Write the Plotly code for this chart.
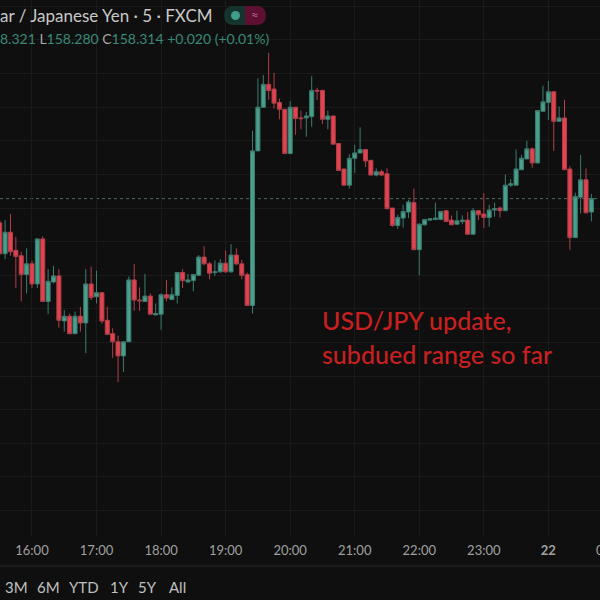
import pandas as pd
import plotly.graph_objects as go

opens = [158.278, 158.232, 158.264, 158.237, 158.229, 158.201, 158.217, 158.187, 158.254, 158.161, 158.190,
         158.199, 158.132, 158.139, 158.113, 158.139, 158.129, 158.187, 158.168, 158.174, 158.133, 158.113,
         158.101, 158.080, 158.101, 158.193, 158.163, 158.161, 158.169, 158.141, 158.142, 158.171, 158.164,
         158.170, 158.204, 158.190, 158.192, 158.200, 158.227, 158.217, 158.204, 158.205, 158.218, 158.205,
         158.230, 158.217, 158.201, 158.155, 158.385, 158.450, 158.484, 158.477, 158.457, 158.447, 158.381,
         158.450, 158.434, 158.434, 158.436, 158.475, 158.475, 158.432, 158.437, 158.396, 158.358, 158.334,
         158.374, 158.382, 158.387, 158.371, 158.349, 158.354, 158.351, 158.300, 158.274, 158.285, 158.294,
         158.308, 158.238, 158.275, 158.282, 158.283, 158.283, 158.296, 158.282, 158.276, 158.280, 158.282,
         158.261, 158.296, 158.291, 158.286, 158.297, 158.300, 158.296, 158.334, 158.334, 158.357, 158.373,
         158.388, 158.367, 158.444, 158.457, 158.473, 158.429, 158.434, 158.358, 158.256, 158.316, 158.342,
         158.294]
highs = [158.282, 158.282, 158.291, 158.257, 158.235, 158.240, 158.222, 158.255, 158.258, 158.209, 158.214,
         158.209, 158.148, 158.143, 158.146, 158.153, 158.209, 158.213, 158.207, 158.174, 158.153, 158.121,
         158.110, 158.101, 158.198, 158.217, 158.182, 158.202, 158.173, 158.158, 158.173, 158.193, 158.182,
         158.204, 158.209, 158.202, 158.202, 158.230, 158.243, 158.220, 158.222, 158.224, 158.237, 158.246,
         158.240, 158.223, 158.204, 158.415, 158.493, 158.498, 158.531, 158.501, 158.463, 158.447, 158.459,
         158.450, 158.445, 158.443, 158.496, 158.479, 158.475, 158.445, 158.437, 158.396, 158.359, 158.380,
         158.394, 158.420, 158.387, 158.371, 158.359, 158.357, 158.359, 158.300, 158.290, 158.305, 158.312,
         158.329, 158.277, 158.283, 158.284, 158.308, 158.295, 158.297, 158.289, 158.296, 158.289, 158.294,
         158.300, 158.296, 158.322, 158.305, 158.308, 158.302, 158.350, 158.343, 158.387, 158.379, 158.400,
         158.390, 158.445, 158.482, 158.489, 158.473, 158.451, 158.461, 158.362, 158.323, 158.379, 158.359,
         158.321]
lows = [158.230, 158.224, 158.229, 158.181, 158.161, 158.173, 158.181, 158.181, 158.161, 158.142, 158.188,
        158.122, 158.116, 158.113, 158.113, 158.116, 158.084, 158.163, 158.158, 158.128, 158.111, 158.077,
        158.041, 158.056, 158.101, 158.147, 158.147, 158.160, 158.142, 158.141, 158.119, 158.161, 158.163,
        158.158, 158.181, 158.189, 158.176, 158.199, 158.215, 158.194, 158.199, 158.204, 158.204, 158.204,
        158.215, 158.194, 158.155, 158.143, 158.385, 158.449, 158.461, 158.448, 158.432, 158.381, 158.381,
        158.409, 158.417, 158.406, 158.421, 158.461, 158.425, 158.417, 158.395, 158.356, 158.334, 158.329,
        158.352, 158.381, 158.361, 158.349, 158.347, 158.348, 158.299, 158.272, 158.269, 158.271, 158.285,
        158.238, 158.200, 158.274, 158.281, 158.282, 158.282, 158.279, 158.275, 158.275, 158.276, 158.261,
        158.261, 158.282, 158.270, 158.272, 158.287, 158.286, 158.296, 158.331, 158.334, 158.357, 158.373,
        158.360, 158.367, 158.444, 158.431, 158.385, 158.428, 158.357, 158.238, 158.256, 158.292, 158.292,
        158.280]
closes = [158.232, 158.264, 158.235, 158.228, 158.201, 158.217, 158.187, 158.254, 158.161, 158.191, 158.199,
          158.133, 158.139, 158.113, 158.139, 158.129, 158.187, 158.167, 158.174, 158.132, 158.112, 158.101,
          158.080, 158.101, 158.193, 158.163, 158.162, 158.169, 158.142, 158.143, 158.171, 158.166, 158.171,
          158.204, 158.192, 158.193, 158.201, 158.227, 158.217, 158.203, 158.205, 158.218, 158.205, 158.230,
          158.217, 158.200, 158.155, 158.385, 158.450, 158.484, 158.475, 158.456, 158.447, 158.381, 158.450,
          158.433, 158.433, 158.437, 158.475, 158.474, 158.432, 158.437, 158.395, 158.356, 158.334, 158.374,
          158.382, 158.387, 158.370, 158.349, 158.354, 158.349, 158.299, 158.274, 158.286, 158.295, 158.309,
          158.238, 158.276, 158.283, 158.284, 158.285, 158.295, 158.280, 158.275, 158.281, 158.282, 158.261,
          158.296, 158.290, 158.286, 158.297, 158.299, 158.296, 158.334, 158.336, 158.358, 158.374, 158.388,
          158.367, 158.445, 158.458, 158.473, 158.429, 158.434, 158.357, 158.256, 158.317, 158.342, 158.293,
          158.314]

times = pd.date_range("2024-06-21 15:30", periods=len(opens), freq="5min")

hour_ticks = ["2024-06-21 16:00", "2024-06-21 17:00", "2024-06-21 18:00", "2024-06-21 19:00", "2024-06-21 20:00",
              "2024-06-21 21:00", "2024-06-21 22:00", "2024-06-21 23:00", "2024-06-22 00:00"]
hour_labels = ["16:00", "17:00", "18:00", "19:00", "20:00", "21:00", "22:00", "23:00", "<b>22</b>"]
price_ticks = [157.85, 157.90, 157.95, 158.00, 158.05, 158.10, 158.15, 158.20, 158.25, 158.30, 158.35, 158.40,
               158.45, 158.50, 158.55, 158.60]
last_price = 158.314

range_labels = ["3M", "6M", "YTD", "1Y", "5Y", "All"]
range_label_x = [16.5, 48, 84, 119, 147, 177]

BG = "#0f0f0f"
GRID = "#1a1a1a"
UP = "#479f8c"
DOWN = "#e2434f"


def px_x(x):
    return x / 600


def px_y(y):
    return 1 - y / 600


fig = go.Figure(go.Candlestick(
    x=times, open=opens, high=highs, low=lows, close=closes,
    increasing=dict(line=dict(color="#3d7d70", width=1), fillcolor=UP),
    decreasing=dict(line=dict(color="#b23f4a", width=1), fillcolor=DOWN),
    whiskerwidth=0,
    showlegend=False,
))

fig.update_layout(
    width=600, height=600,
    margin=dict(l=0, r=0, t=0, b=0),
    paper_bgcolor=BG, plot_bgcolor=BG,
    showlegend=False,
    boxgap=0.25, boxgroupgap=0,
    font=dict(family="Lato", color="#b4b4b4"),
)
fig.update_xaxes(
    range=["2024-06-21 15:30:16", "2024-06-22 00:48:00"],
    rangeslider_visible=False,
    tickmode="array", tickvals=hour_ticks, ticktext=hour_labels,
    tickfont=dict(family="Lato", size=13, color="#a0a0a0"),
    ticklabelstandoff=5,
    ticks="", showgrid=True, gridcolor=GRID, gridwidth=1, zeroline=False, showline=False,
)
fig.update_yaxes(
    domain=[64 / 600, 1],
    range=[157.812, 158.6095],
    tickmode="array", tickvals=price_ticks, showticklabels=False,
    ticks="", showgrid=True, gridcolor=GRID, gridwidth=1, zeroline=False, showline=False,
)

# last price line
fig.add_shape(type="line", xref="paper", x0=0, x1=1, yref="y", y0=last_price, y1=last_price,
              line=dict(color="#4d6b63", width=1, dash="dot"), layer="below")

# separator above the range buttons
fig.add_shape(type="line", xref="paper", yref="paper", x0=0, x1=1, y0=px_y(566), y1=px_y(566),
              line=dict(color="#262626", width=1))

# status pill in the header
left_half = (f"M {px_x(245)} {px_y(6)} L {px_x(234)} {px_y(6)} Q {px_x(224)} {px_y(6)} {px_x(224)} {px_y(15.5)} "
             f"Q {px_x(224)} {px_y(25)} {px_x(234)} {px_y(25)} L {px_x(245)} {px_y(25)} Z")
right_half = (f"M {px_x(245)} {px_y(6)} L {px_x(256)} {px_y(6)} Q {px_x(266)} {px_y(6)} {px_x(266)} {px_y(15.5)} "
              f"Q {px_x(266)} {px_y(25)} {px_x(256)} {px_y(25)} L {px_x(245)} {px_y(25)} Z")
fig.add_shape(type="path", xref="paper", yref="paper", path=left_half, fillcolor="#15342e", line_width=0)
fig.add_shape(type="path", xref="paper", yref="paper", path=right_half, fillcolor="#5e1033", line_width=0)
fig.add_shape(type="circle", xref="paper", yref="paper", x0=px_x(231), x1=px_x(240), y0=px_y(11), y1=px_y(20),
              fillcolor="#3f9e8a", line_width=0)


def label(text, x, y, size, color, anchor="left", weight="normal"):
    fig.add_annotation(text=text, xref="paper", yref="paper", x=px_x(x), y=px_y(y), xanchor=anchor, yanchor="middle",
                       showarrow=False, font=dict(family="Lato", size=size, color=color, weight=weight), align="left",
                       borderpad=0, borderwidth=0)


label("≈", 255, 15, 13, "#b0607a", "center")
label("ar / Japanese Yen · 5 · FXCM", 0, 16, 17, "#c8c8c8")
label('<span style="color:#3a8a78">8.321</span> <span style="color:#a8a8a8">L</span>'
      '<span style="color:#3a8a78">158.280</span> <span style="color:#a8a8a8">C</span>'
      '<span style="color:#3a8a78">158.314 +0.020 (+0.01%)</span>', 0, 38, 14, "#3a8a78")
label("USD/JPY update,", 322, 320, 25, "#c8201f", weight=500)
label("subdued range so far", 322, 354, 25, "#c8201f", weight=500)
label("01:00", 613, 550, 13, "#a0a0a0", "center")

for name, x in zip(range_labels, range_label_x):
    label(name, x, 587, 15, "#c0c0c0", "center")

# page margin off so the figure fills the whole window, no modebar on hover
fig.write_html("out.html", config={"displayModeBar": False},
               post_script="document.body.style.margin='0';document.body.style.background='#0f0f0f';")
